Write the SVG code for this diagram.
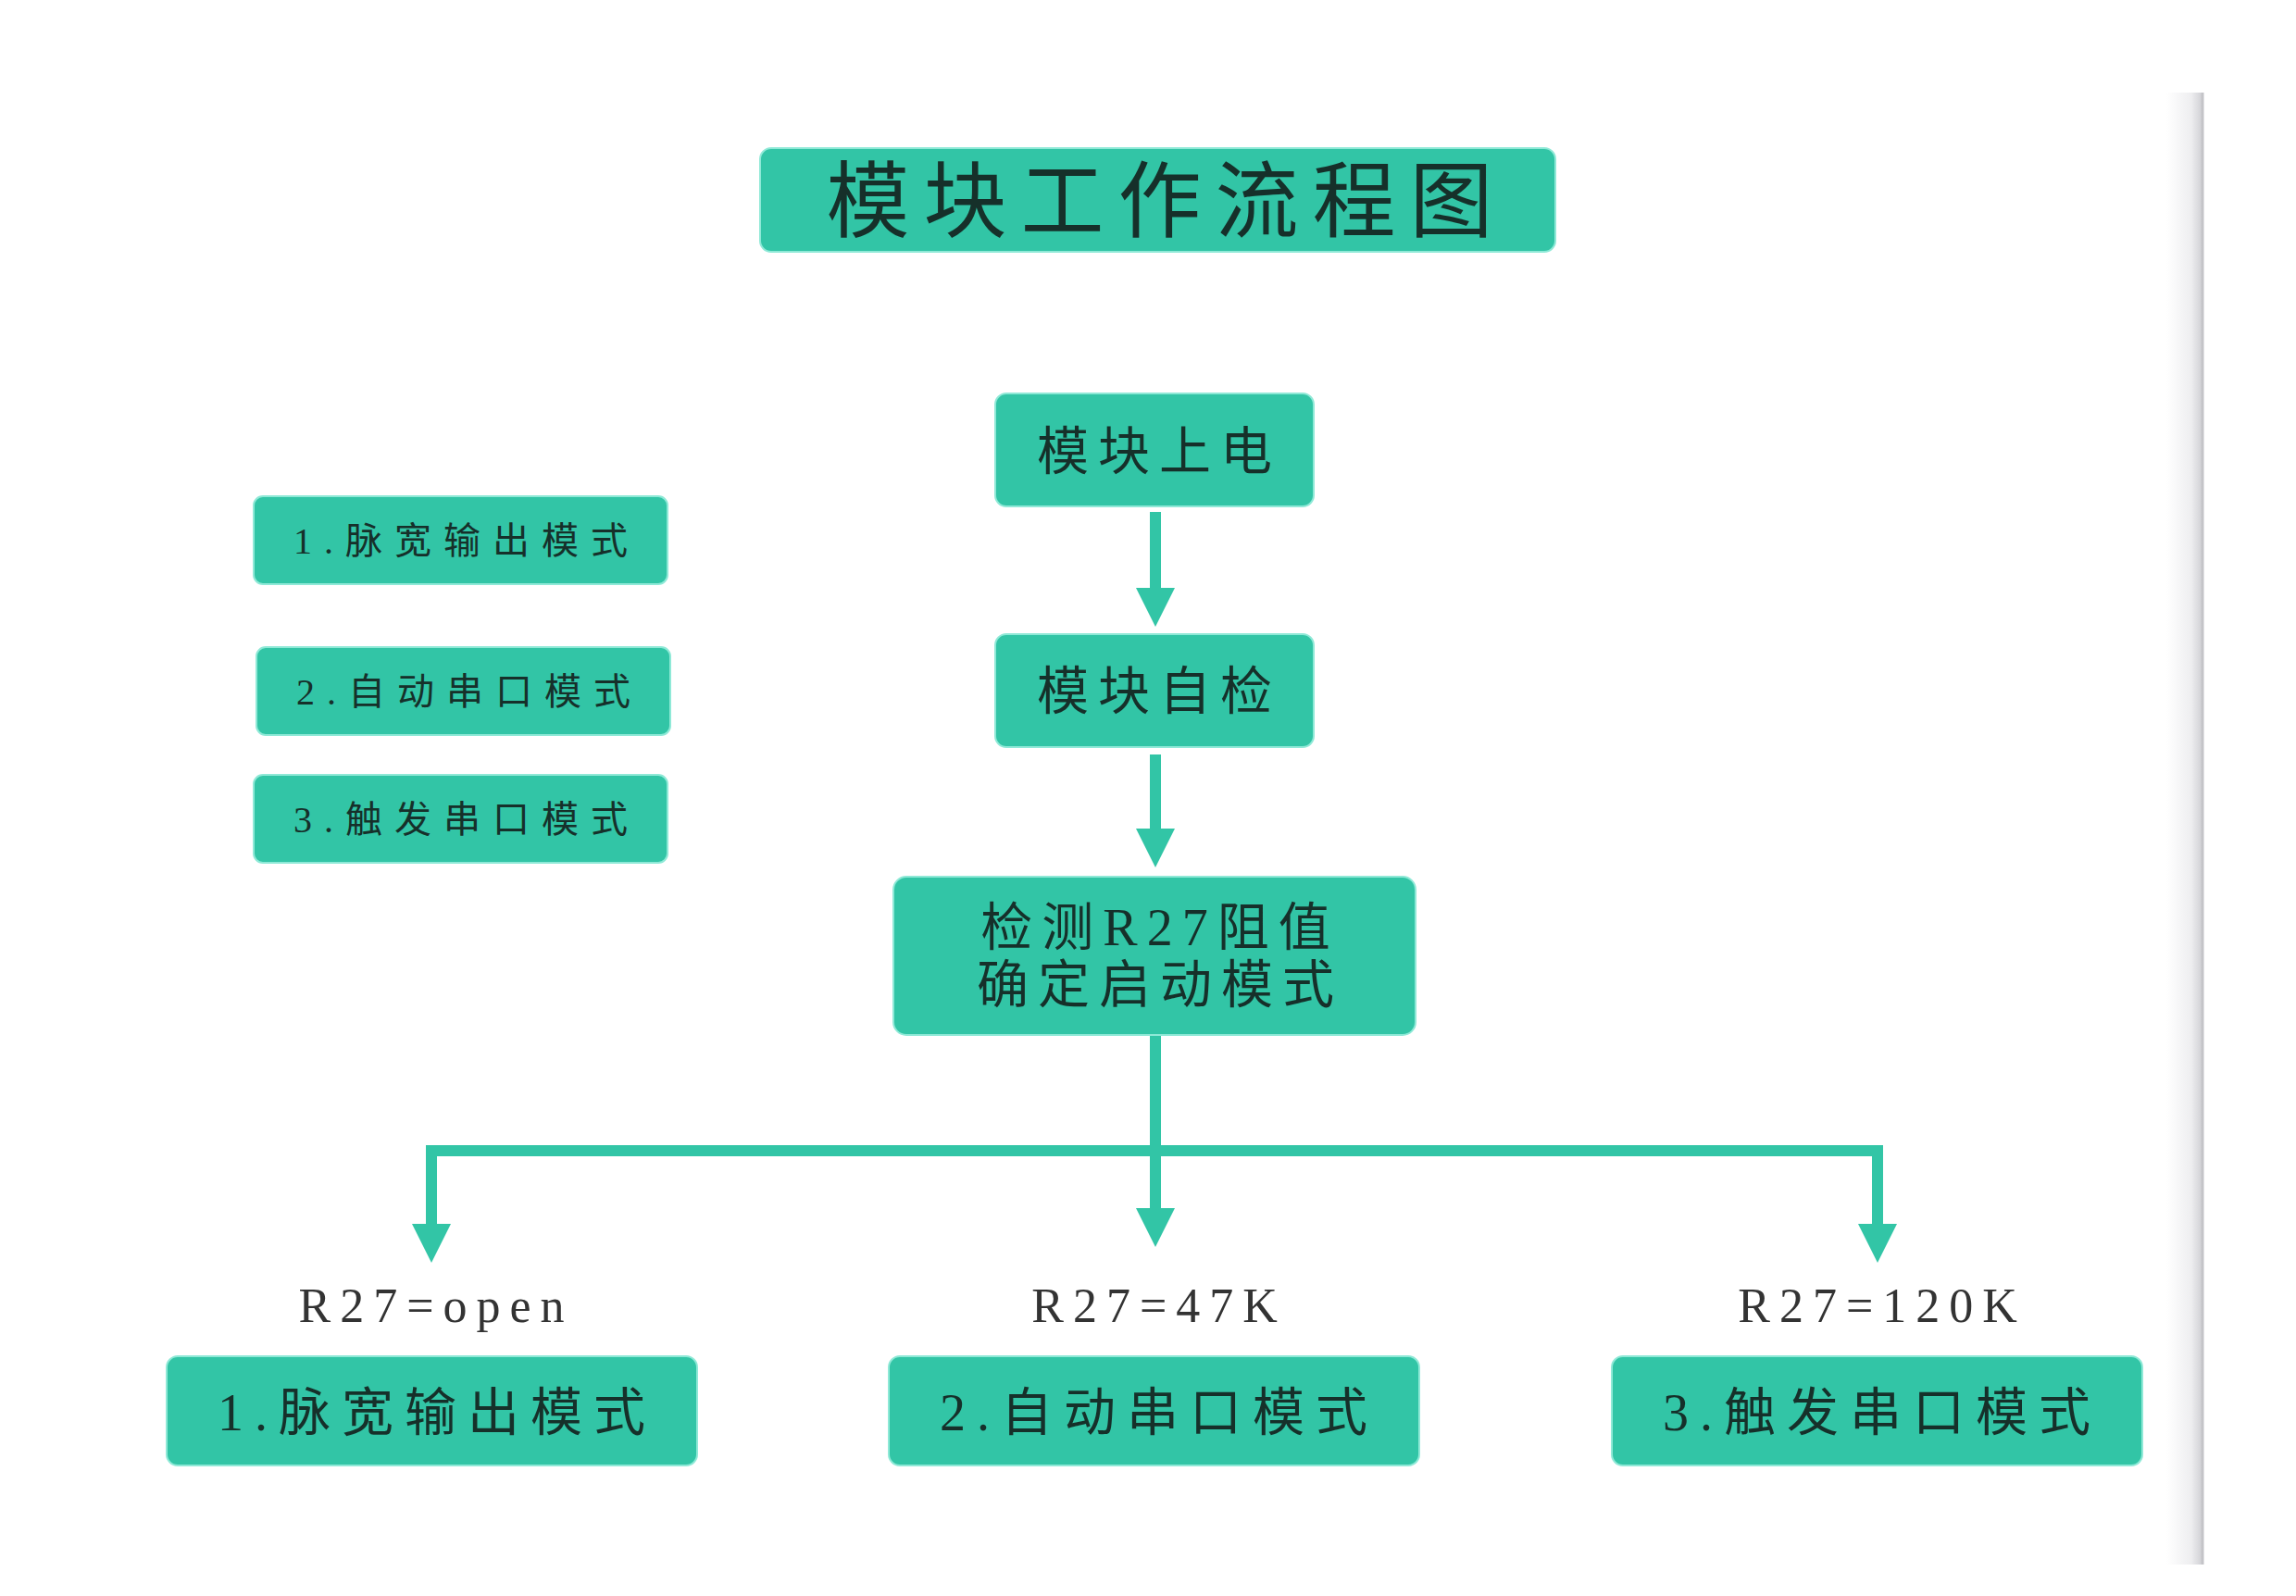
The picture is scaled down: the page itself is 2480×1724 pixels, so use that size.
<svg xmlns="http://www.w3.org/2000/svg" width="2480" height="1724" viewBox="0 0 2480 1724">
<style>
.box{fill:#32c5a6;stroke:#8fe9d7;stroke-width:2}
.t{font-family:"Liberation Serif","Noto Sans CJK SC",serif;fill:#16302a;text-anchor:middle}
.lbl{font-family:"Liberation Serif","Noto Sans CJK SC",serif;fill:#333;text-anchor:middle;font-size:52px;letter-spacing:10px}
.ln{stroke:#32c5a6;stroke-width:12;fill:none}
</style>
<defs>
<marker id="ah" markerUnits="userSpaceOnUse" markerWidth="44" markerHeight="44" refX="0" refY="21" orient="auto">
<path d="M0,0 L42,21 L0,42 z" fill="#32c5a6"/>
</marker>
<linearGradient id="edge" x1="0" y1="0" x2="1" y2="0">
<stop offset="0" stop-color="#ffffff"/>
<stop offset="0.7" stop-color="#eeeef0"/>
<stop offset="1" stop-color="#d2d2d6"/>
</linearGradient>
</defs>
<rect width="2480" height="1724" fill="#ffffff"/>
<rect x="2340" y="100" width="38" height="1590" fill="url(#edge)"/>
<line x1="2379" y1="100" x2="2379" y2="1690" stroke="#c4c4c8" stroke-width="3"/>

<g id="connectors">
<line class="ln" x1="1248" y1="553" x2="1248" y2="635" marker-end="url(#ah)"/>
<line class="ln" x1="1248" y1="815" x2="1248" y2="895" marker-end="url(#ah)"/>
<line class="ln" x1="1248" y1="1118" x2="1248" y2="1305" marker-end="url(#ah)"/>
<path class="ln" d="M466,1243 H2028 V1322" stroke-linejoin="miter" marker-end="url(#ah)"/>
<line class="ln" x1="466" y1="1237" x2="466" y2="1322" marker-end="url(#ah)"/>
</g>

<g id="title">
<rect class="box" x="821" y="160" width="859" height="112" rx="12"/>
<text class="t" x="1260" y="249" font-size="90" letter-spacing="15">模块工作流程图</text>
</g>

<g id="n-power">
<rect class="box" x="1075" y="425" width="344" height="122" rx="12"/>
<text class="t" x="1252" y="507" font-size="56" letter-spacing="10">模块上电</text>
</g>
<g id="n-selfcheck">
<rect class="box" x="1075" y="685" width="344" height="122" rx="12"/>
<text class="t" x="1252" y="766" font-size="56" letter-spacing="10">模块自检</text>
</g>
<g id="n-detect">
<rect class="box" x="965" y="947" width="564" height="171" rx="14"/>
<text class="t" x="1253" y="1021" font-size="56" letter-spacing="10">检测R27阻值</text>
<text class="t" x="1253" y="1083" font-size="56" letter-spacing="10">确定启动模式</text>
</g>

<g id="legend-1">
<rect class="box" x="274" y="536" width="447" height="95" rx="10"/>
<text class="t" x="504" y="598" font-size="40" letter-spacing="13">1.脉宽输出模式</text>
</g>
<g id="legend-2">
<rect class="box" x="277" y="699" width="447" height="95" rx="10"/>
<text class="t" x="507" y="761" font-size="40" letter-spacing="13">2.自动串口模式</text>
</g>
<g id="legend-3">
<rect class="box" x="274" y="837" width="447" height="95" rx="10"/>
<text class="t" x="504" y="899" font-size="40" letter-spacing="13">3.触发串口模式</text>
</g>

<g id="mode-1">
<text class="lbl" x="471" y="1428">R27=open</text>
<rect class="box" x="180" y="1465" width="573" height="118" rx="12"/>
<text class="t" x="472" y="1545" font-size="56" letter-spacing="12">1.脉宽输出模式</text>
</g>
<g id="mode-2">
<text class="lbl" x="1252" y="1428">R27=47K</text>
<rect class="box" x="960" y="1465" width="573" height="118" rx="12"/>
<text class="t" x="1252" y="1545" font-size="56" letter-spacing="12">2.自动串口模式</text>
</g>
<g id="mode-3">
<text class="lbl" x="2033" y="1428">R27=120K</text>
<rect class="box" x="1741" y="1465" width="573" height="118" rx="12"/>
<text class="t" x="2033" y="1545" font-size="56" letter-spacing="12">3.触发串口模式</text>
</g>
</svg>
